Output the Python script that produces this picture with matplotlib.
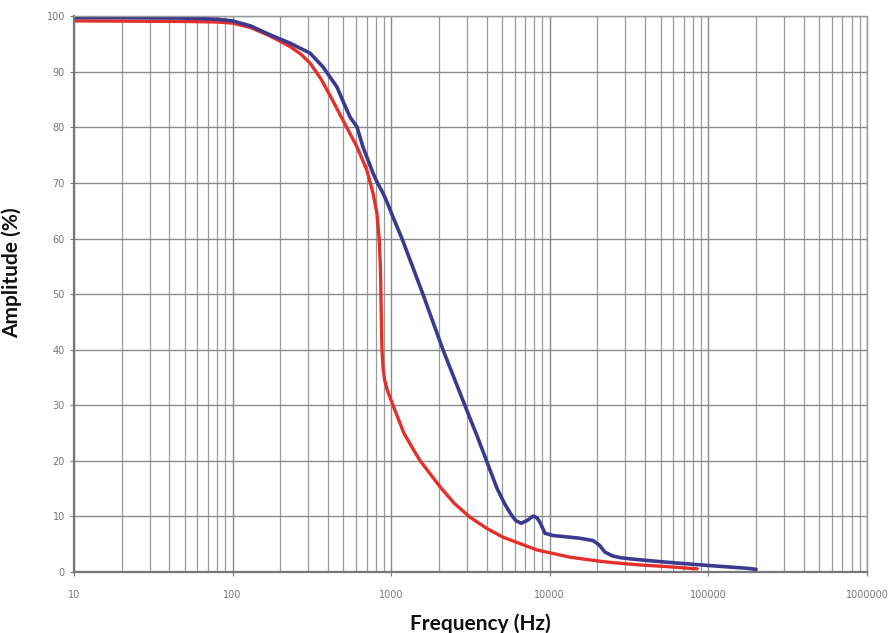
import numpy as np
import matplotlib
matplotlib.use("Agg")
import matplotlib.pyplot as plt
from matplotlib.ticker import FixedLocator, LogLocator, NullFormatter

# values
blue_freq = [10, 20, 50, 80, 100, 130, 172, 230, 308, 372, 455, 510, 550, 609, 664,
             768, 820, 888, 950, 1026, 1170, 1585, 2120, 3005, 3475, 4650, 5200, 5700,
             6100, 6600, 7200, 7830, 8300, 8670, 9330, 10500, 13400, 15500, 18700, 20500,
             22300, 25000, 28000, 32100, 45000, 66200, 100000, 140000, 175000, 200000]
blue_amp = [99.8, 99.8, 99.7, 99.5, 99.2, 98.3, 96.7, 95.2, 93.4, 90.9, 87.3, 84.0, 81.9,
            80.1, 76.5, 71.8, 70.0, 68.2, 66.3, 63.9, 60.0, 50.0, 40.0, 29.0, 24.5, 15.0,
            12.2, 10.3, 9.2, 8.7, 9.2, 10.0, 9.7, 8.9, 6.9, 6.5, 6.2, 6.0, 5.6, 4.8, 3.5,
            2.8, 2.5, 2.3, 1.9, 1.5, 1.1, 0.8, 0.6, 0.4]

red_freq = [10, 50, 80, 100, 130, 172, 230, 270, 308, 360, 411, 497, 609, 703, 768, 813,
            840, 855, 862, 868, 875, 890, 910, 950, 1026, 1200, 1400, 1520, 2030, 2500,
            3140, 4000, 5070, 8300, 13400, 18000, 21600, 27700, 37000, 55000, 75000, 85000]
red_amp = [99.2, 99.1, 99.0, 98.8, 98.0, 96.5, 94.6, 93.2, 91.6, 88.8, 85.8, 81.3, 76.5,
           72.3, 68.2, 64.6, 60.0, 55.0, 50.0, 45.0, 40.0, 36.5, 34.5, 32.5, 30.0, 25.0,
           21.7, 20.0, 15.3, 12.3, 9.8, 7.8, 6.2, 3.9, 2.6, 2.1, 1.8, 1.5, 1.2, 0.9, 0.6,
           0.5]

x_ticks = [10, 100, 1000, 10000, 100000, 1000000]
y_ticks = list(range(0, 101, 10))

fig = plt.figure(figsize=(8.91, 6.33), dpi=100)
ax = fig.add_axes([0.083, 0.097, 0.890, 0.877])

ax.set_xscale("log")
ax.set_xlim(10, 1000000)
ax.set_ylim(0, 100)

# grid
ax.xaxis.set_major_locator(FixedLocator(x_ticks))
ax.xaxis.set_minor_locator(LogLocator(base=10, subs=np.arange(2, 10)))
ax.xaxis.set_minor_formatter(NullFormatter())
ax.set_xticklabels([str(t) for t in x_ticks])
ax.set_yticks(y_ticks)
ax.grid(True, which="major", axis="both", color="#8a8a8a", lw=1.0)
ax.grid(True, which="minor", axis="x", color="#9a9a9a", lw=0.9)
ax.set_axisbelow(True)

ax.plot(red_freq, red_amp, color="#e4302b", lw=2.4, solid_capstyle="round",
        solid_joinstyle="round")
ax.plot(blue_freq, blue_amp, color="#3b3a8e", lw=2.6, solid_capstyle="round",
        solid_joinstyle="round")

for s in ["left", "bottom"]:
    ax.spines[s].set_color("#777777")
    ax.spines[s].set_linewidth(1.6)
for s in ["top", "right"]:
    ax.spines[s].set_color("#9a9a9a")
    ax.spines[s].set_linewidth(1.0)

ax.tick_params(axis="both", which="major", labelsize=7, colors="#777777", length=3)
ax.tick_params(axis="x", which="minor", length=0)
ax.tick_params(axis="x", pad=10)

ax.set_xlabel("Frequency (Hz)", fontsize=15, fontweight="bold", family="Lato",
              color="#111111")
ax.xaxis.set_label_coords(0.513, -0.075)
ax.set_ylabel("Amplitude (%)", fontsize=15, fontweight="bold", family="Lato",
              color="#111111")
ax.yaxis.set_label_coords(-0.066, 0.538)

fig.savefig("out.png", dpi=100)
